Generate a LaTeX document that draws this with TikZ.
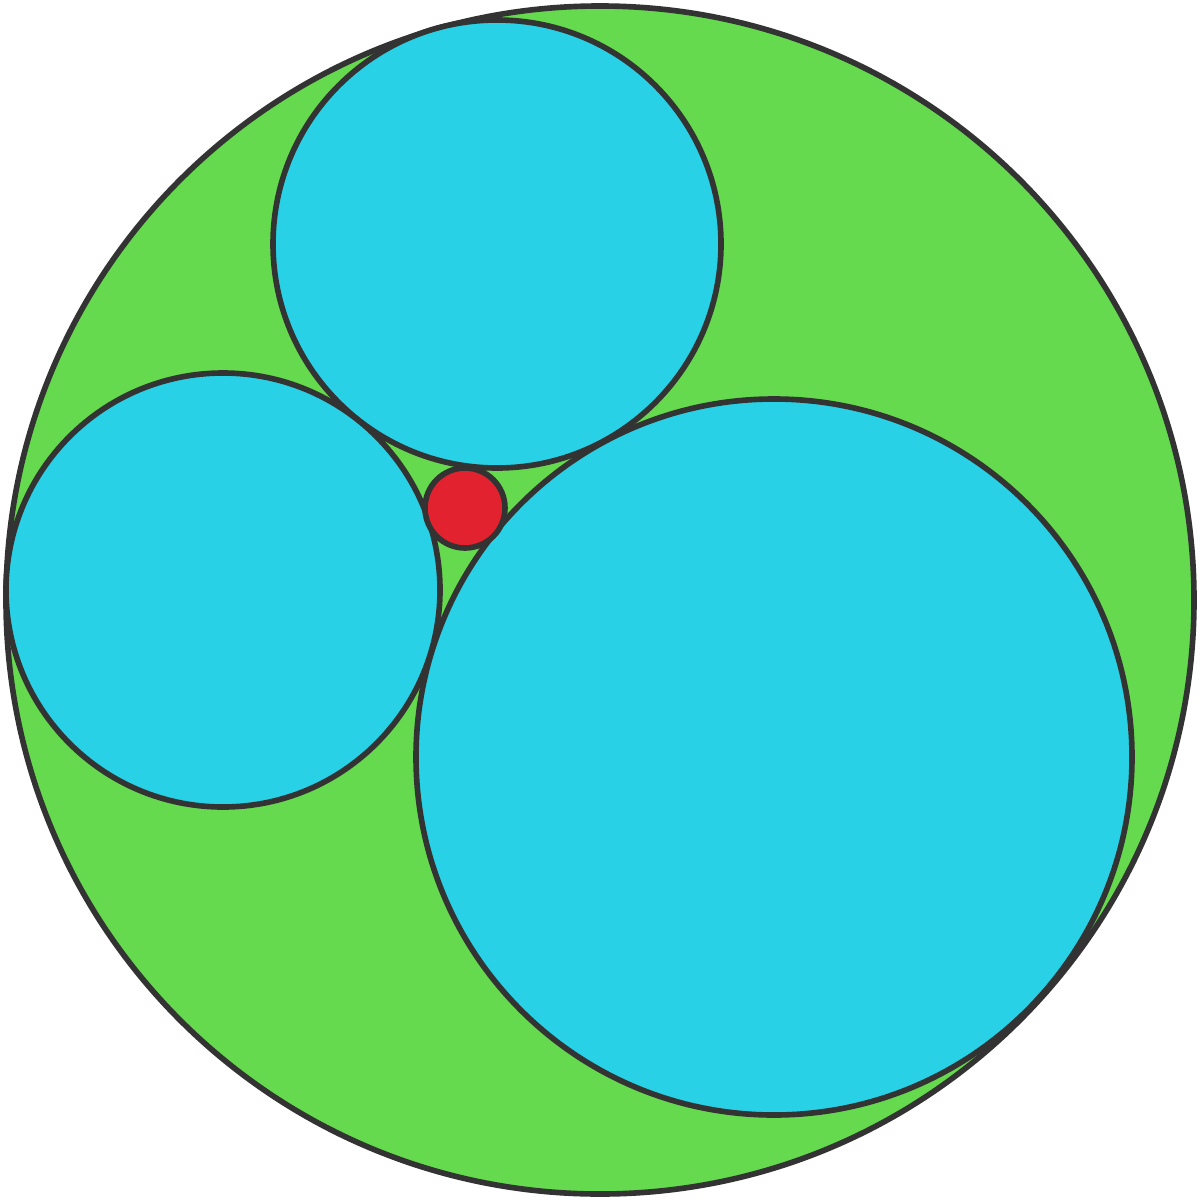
\documentclass[tikz,border=0pt]{standalone}
\definecolor{gfill}{HTML}{66DA4E}
\definecolor{cfill}{HTML}{28D1E5}
\definecolor{rfill}{HTML}{E3222F}
\definecolor{edge}{HTML}{333333}
\begin{document}
\begin{tikzpicture}[x=0.01cm,y=-0.01cm,
  disc/.style={draw=edge,line width=1.6pt}]
\useasboundingbox (0,0) rectangle (1200,1200);
\fill[white] (0,0) rectangle (1200,1200);
\draw[disc,fill=gfill] (600,600) circle[radius=594];
\draw[disc,fill=cfill] (497,244) circle[radius=224];
\draw[disc,fill=cfill] (223,590) circle[radius=217];
\draw[disc,fill=cfill] (774,757) circle[radius=358];
\draw[disc,fill=rfill] (465,508) circle[radius=40];
\end{tikzpicture}
\end{document}
